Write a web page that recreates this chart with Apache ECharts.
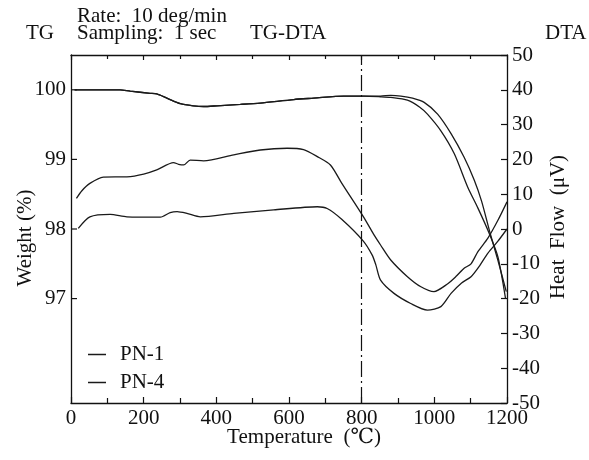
<!DOCTYPE html>
<html>
<head>
<meta charset="utf-8">
<title>TG-DTA</title>
<script src="https://cdn.jsdelivr.net/npm/echarts@6/dist/echarts.min.js"></script>
<style>
  html, body { margin: 0; padding: 0; background: #fff; }
  #chart { width: 589px; height: 460px; }
</style>
</head>
<body>
<div id="chart"></div>
<script>
// TG curves, weight (%) against temperature (deg C)
var tgPN1 = [[10, 100.0], [135, 100.0], [163, 99.98], [218, 99.95], [236, 99.94], [264, 99.88], [301, 99.8],
    [337, 99.77], [365, 99.76], [402, 99.77], [466, 99.79], [521, 99.81], [613, 99.86], [668, 99.88],
    [751, 99.91], [806, 99.91], [852, 99.91], [880, 99.92], [908, 99.91], [940, 99.88], [972, 99.82],
    [1009, 99.65], [1046, 99.37], [1082, 99.03], [1110, 98.7], [1130, 98.4], [1152, 97.97],
    [1175, 97.55], [1198, 97.1]];
var tgPN4 = [[10, 100.0], [135, 100.0], [163, 99.98], [218, 99.95], [236, 99.94], [264, 99.88], [301, 99.8],
    [337, 99.77], [365, 99.76], [402, 99.77], [466, 99.79], [521, 99.81], [613, 99.86], [668, 99.88],
    [751, 99.91], [806, 99.91], [852, 99.9], [880, 99.89], [926, 99.85], [960, 99.75], [981, 99.65],
    [1018, 99.41], [1055, 99.08], [1092, 98.6], [1120, 98.3], [1150, 97.95], [1175, 97.6], [1196, 97.0]];

// DTA curves, heat flow (uV) against temperature (deg C)
var dtaPN1 = [[15, 8.8], [30, 11], [52, 13.1], [89, 14.9], [154, 15.0], [200, 15.8], [236, 17.0], [282, 19.1],
    [296, 18.6], [310, 18.4], [328, 19.8], [365, 19.6], [448, 21.3], [521, 22.7], [595, 23.2], [640, 22.8],
    [678, 20.8], [714, 18.4], [745, 13.2], [805, 3.5], [834, -1.7], [852, -4.6], [880, -8.9], [926, -13.7],
    [963, -16.6], [999, -18], [1036, -15.8], [1060, -13.6], [1082, -11.3], [1101, -10], [1120, -6.5],
    [1147, -2.7], [1175, 2.5], [1200, 7.8]];
var dtaPN4 = [[20, 0.2], [52, 3.5], [108, 4.2], [154, 3.5], [246, 3.4], [273, 4.7], [292, 5.0], [319, 4.5],
    [356, 3.5], [448, 4.5], [558, 5.5], [678, 6.4], [705, 5.9], [745, 2.8], [804, -3.4], [829, -7.5],
    [839, -10.3], [852, -14.7], [889, -18.5], [935, -21.4], [981, -23.3], [1018, -22.3], [1046, -18.5],
    [1075, -15.5], [1101, -13.7], [1125, -10.5], [1147, -7], [1175, -3.5], [1200, 0]];

var weightTicks = [97, 98, 99, 100];
var markTemp = 800;

var font = '"Liberation Serif", "DejaVu Serif", serif';
var ink = '#111';

var chart = echarts.init(document.getElementById('chart'));

function curve(name, data, axis) {
    return {
        name: name,
        type: 'line',
        yAxisIndex: axis,
        data: data,
        symbol: 'none',
        smooth: 0.25,
        lineStyle: { color: '#1a1a1a', width: 1.3 },
        itemStyle: { color: '#1a1a1a' }
    };
}

var series = [
    curve('PN-1', tgPN1, 0),
    curve('PN-4', tgPN4, 0),
    curve('PN-1', dtaPN1, 1),
    curve('PN-4', dtaPN4, 1)
];
series[0].markLine = {
    silent: true,
    symbol: 'none',
    label: { show: false },
    lineStyle: { color: ink, width: 1.2, type: [16, 4, 2, 4] },
    data: [{ xAxis: markTemp }]
};
// inner ticks of the weight axis, only at the labelled values
series.push({
    type: 'custom',
    name: 'weight ticks',
    yAxisIndex: 0,
    silent: true,
    clip: false,
    data: weightTicks.map(function (w) { return [0, w]; }),
    renderItem: function (params, api) {
        var p = api.coord([api.value(0), api.value(1)]);
        return {
            type: 'line',
            shape: { x1: p[0], y1: p[1], x2: p[0] + 6, y2: p[1] },
            style: { stroke: ink, lineWidth: 1.2 }
        };
    }
});

var tickStyle = { color: ink, width: 1.2 };

var option = {
    animation: false,
    backgroundColor: '#fff',
    grid: { left: 71, right: 82, top: 55, bottom: 57 },
    legend: {
        data: ['PN-1', 'PN-4'],
        orient: 'vertical',
        left: 88,
        top: 344,
        padding: 0,
        icon: 'rect',
        itemWidth: 18,
        itemHeight: 1.5,
        itemGap: 7,
        textStyle: { fontFamily: font, fontSize: 21, color: ink, padding: [0, 0, 0, 9] }
    },
    xAxis: [{
        type: 'value',
        min: 0,
        max: 1200,
        interval: 200,
        axisLine: { onZero: false, lineStyle: { color: ink, width: 1.3 } },
        axisTick: { inside: true, length: 6, lineStyle: tickStyle },
        minorTick: { show: true, splitNumber: 2, length: 5, lineStyle: tickStyle },
        axisLabel: {
            fontFamily: font, fontSize: 21, color: ink, margin: 5,
            formatter: function (v) { return String(v); }
        },
        splitLine: { show: false }
    }, {
        type: 'value',
        position: 'top',
        min: 0,
        max: 1200,
        interval: 200,
        axisLine: { show: true, onZero: false, lineStyle: { color: ink, width: 1.3 } },
        axisTick: { inside: true, length: 5, lineStyle: tickStyle },
        minorTick: { show: true, splitNumber: 2, length: 4, lineStyle: tickStyle },
        axisLabel: { show: false },
        splitLine: { show: false }
    }],
    yAxis: [{
        type: 'value',
        min: 95.5,
        max: 100.5,
        interval: 0.5,
        axisLine: { show: true, onZero: false, lineStyle: { color: ink, width: 1.3 } },
        axisTick: { show: false },
        axisLabel: { fontFamily: font, fontSize: 21, color: ink, margin: 5, customValues: weightTicks },
        splitLine: { show: false }
    }, {
        type: 'value',
        position: 'right',
        min: -50,
        max: 50,
        interval: 10,
        axisLine: { show: true, onZero: false, lineStyle: { color: ink, width: 1.3 } },
        axisTick: { inside: true, length: 6, lineStyle: tickStyle },
        axisLabel: { fontFamily: font, fontSize: 21, color: ink, margin: 5 },
        splitLine: { show: false }
    }],
    graphic: [
        { type: 'text', left: 77, top: 6, style: { text: 'Rate:  10 deg/min', font: '21px ' + font, fill: ink } },
        { type: 'text', left: 26, top: 23, style: { text: 'TG', font: '21px ' + font, fill: ink } },
        { type: 'text', left: 77, top: 23, style: { text: 'Sampling:  1 sec', font: '21px ' + font, fill: ink } },
        { type: 'text', left: 250, top: 23, style: { text: 'TG-DTA', font: '21px ' + font, fill: ink } },
        { type: 'text', left: 545, top: 23, style: { text: 'DTA', font: '21px ' + font, fill: ink } },
        { type: 'text', x: 25, y: 238, rotation: Math.PI / 2,
          style: { text: 'Weight (%)', font: '21px ' + font, fill: ink, align: 'center', verticalAlign: 'middle' } },
        { type: 'text', x: 558, y: 227, rotation: Math.PI / 2,
          style: { text: 'Heat  Flow  (\u03bcV)', font: '21px ' + font, fill: ink, align: 'center', verticalAlign: 'middle' } },
        { type: 'text', x: 304, y: 437,
          style: { text: 'Temperature  (\u2103)', font: '21px ' + font, fill: ink, align: 'center', verticalAlign: 'middle' } }
    ],
    series: series
};

chart.setOption(option);
</script>
</body>
</html>
